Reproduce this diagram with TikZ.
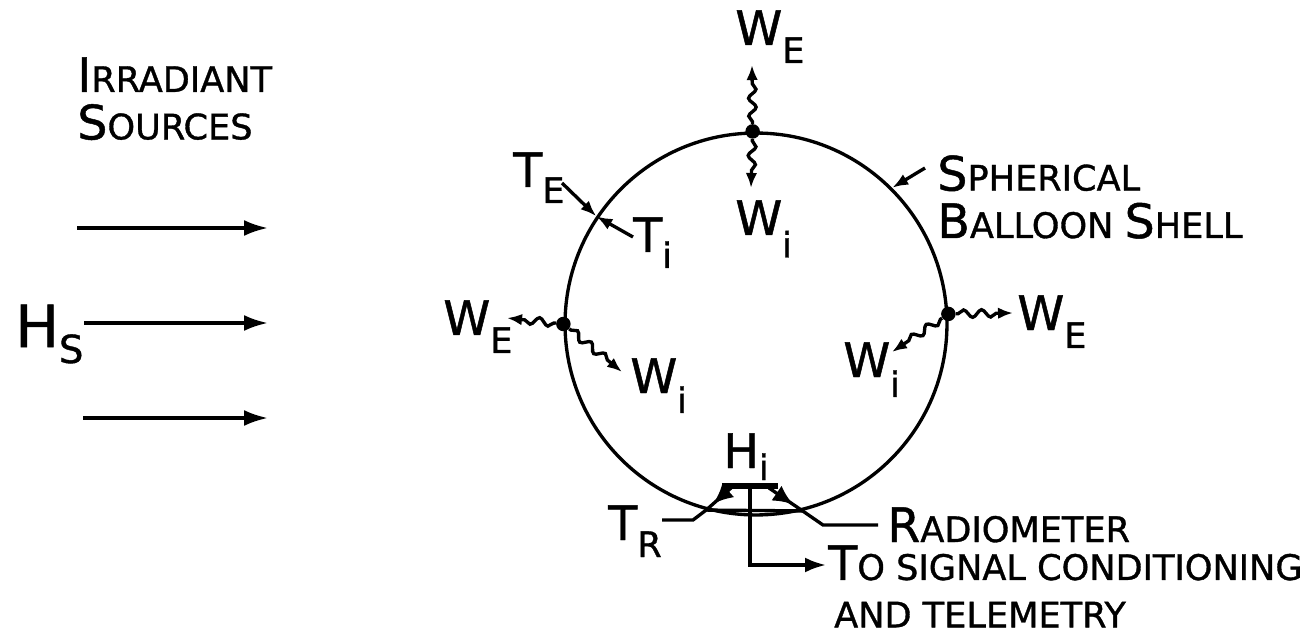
\documentclass[tikz,border=0pt]{standalone}
\usepackage{fontspec}
\setmainfont{DejaVu Sans}[FakeBold=1]
\usetikzlibrary{arrows.meta,decorations.pathmorphing,decorations.markings}

\newcommand{\bigfs}{\fontsize{27}{30}\selectfont}
\newcommand{\subfs}{\fontsize{20}{27}\selectfont}
\newcommand{\firstcap}[2]{{\bigfs #1}#2}
\newcommand{\lsym}[3][0.36cm]{#2\raisebox{-#1}{\subfs #3}}

\tikzset{
  >={Latex[length=3.2mm,width=2.4mm]},
  ln/.style={line width=1.9pt},
  ray/.style={ln,-{Latex[length=4.8mm,width=3.2mm]}},
  wave/.style={ln,-{Latex[length=3mm,width=2.3mm]},decorate,
    decoration={snake,amplitude=0.75mm,segment length=3.6mm,
      pre length=0.4mm,post length=3.2mm}},
  dot/.style={circle,fill=black,inner sep=0pt,minimum size=2.9mm},
  sym/.style={font=\bigfs,inner sep=0pt,anchor=base west},
  txt/.style={font=\subfs,inner sep=0pt},
  leg/.style={ln,postaction={decorate},decoration={markings,
    mark=at position 0.72 with {\arrow{Latex[length=4mm,width=3.6mm]}}}},
}

\begin{document}
\begin{tikzpicture}[x=0.02cm,y=-0.02cm]
\useasboundingbox (0,0) rectangle (1307,638);
% irradiant sources
\node[txt,anchor=north west,align=left] (src) at (77,57)
  {\firstcap{I}{RRADIANT}\\\firstcap{S}{OURCES}};
\node[sym,font=\fontsize{33}{36}\selectfont] (hs) at (15,347)
  {H\raisebox{-0.32cm}{\fontsize{22}{23}\selectfont S}};
\foreach \y/\x [count=\k] in {228/77,323/84,418/83} {
  \coordinate (ray\k a) at (\x,\y);
  \coordinate (ray\k b) at (268,\y);
  \draw[ray] (ray\k a) -- (ray\k b);
}

% balloon shell
\node[circle,draw,ln,minimum size=7.64cm,inner sep=0pt] (shell) at (756,324) {};
\node[dot] (dT) at (shell.91) {};
\node[dot] (dL) at (shell.180) {};
\node[dot] (dR) at (shell.3) {};

\coordinate (weTk) at (752,65);
\coordinate (wiTk) at (751,188);
\coordinate (weLk) at (507,318);
\coordinate (wiLk) at (622,372);
\coordinate (weRk) at (1013,313);
\coordinate (wiRk) at (892,352);
\draw[wave] (dT) -- (weTk);
\draw[wave] (dT) -- (wiTk);
\draw[wave] (dL) -- (weLk);
\draw[wave] (dL) -- (wiLk);
\draw[wave] (dR) -- (weRk);
\draw[wave] (dR) -- (wiRk);

\node[sym] (weT) at (735,45) {\lsym{W}{E}};
\node[sym] (wiT) at (735,235) {\lsym[0.45cm]{W}{i}};
\node[sym] (weL) at (443,335) {\lsym{W}{E}};
\node[sym] (wiL) at (630,393) {\lsym[0.4cm]{W}{i}};
\node[sym] (weR) at (1017,330) {\lsym{W}{E}};
\node[sym] (wiR) at (843,377) {\lsym[0.4cm]{W}{i}};

% temperatures
\node[sym] (te) at (513,187) {\lsym[0.32cm]{T}{E}};
\node[sym] (ti) at (633,252) {\lsym[0.32cm]{T}{i}};
\coordinate (teK) at (562,183);
\coordinate (tiK) at (633,237);
\draw[ln,->] (teK) -- (shell.146);
\draw[ln,->] (tiK) -- (shell.146);

\node[txt,anchor=north west,align=left] (sph) at (937,155)
  {\firstcap{S}{PHERICAL}\\\firstcap{B}{ALLOON} \firstcap{S}{HELL}};
\coordinate (sphK) at (925,168);
\draw[ln,->] (sphK) -- (shell.45);

% radiometer
\node[fill=black,minimum width=1.12cm,minimum height=0.11cm,inner sep=0pt] (rad) at (750,486) {};
\node[sym] (hi) at (723,468) {\lsym[0.24cm]{H}{i}};
\coordinate (legL) at (731,488);
\coordinate (legR) at (769,488);
\draw[ln] (shell.255) -- (shell.284);
\draw[leg] (legL) -- (shell.255);
\draw[leg] (legR) -- (shell.284);

\node[sym] (tr) at (608,540) {\lsym[0.34cm]{T}{R}};
\coordinate (trK) at (693,520);
\draw[ln] (tr.east |- trK) -- (trK) -- (shell.255);

\node[txt,anchor=base west] (radio) at (887,542) {\firstcap{R}{ADIOMETER}};
\coordinate (radK) at (823,525);
\draw[ln] (shell.284) -- (radK) -- ([xshift=-0.18cm]radio.west);

\node[txt,anchor=north west,align=left] (sig) at (828,545)
  {\firstcap{T}{O SIGNAL CONDITIONING}\\\,AND TELEMETRY};
\coordinate (sigK) at (826,565);
\draw[ln,-{Latex[length=4.2mm,width=3mm]}] (rad.center) |- (sigK);
\end{tikzpicture}
\end{document}
